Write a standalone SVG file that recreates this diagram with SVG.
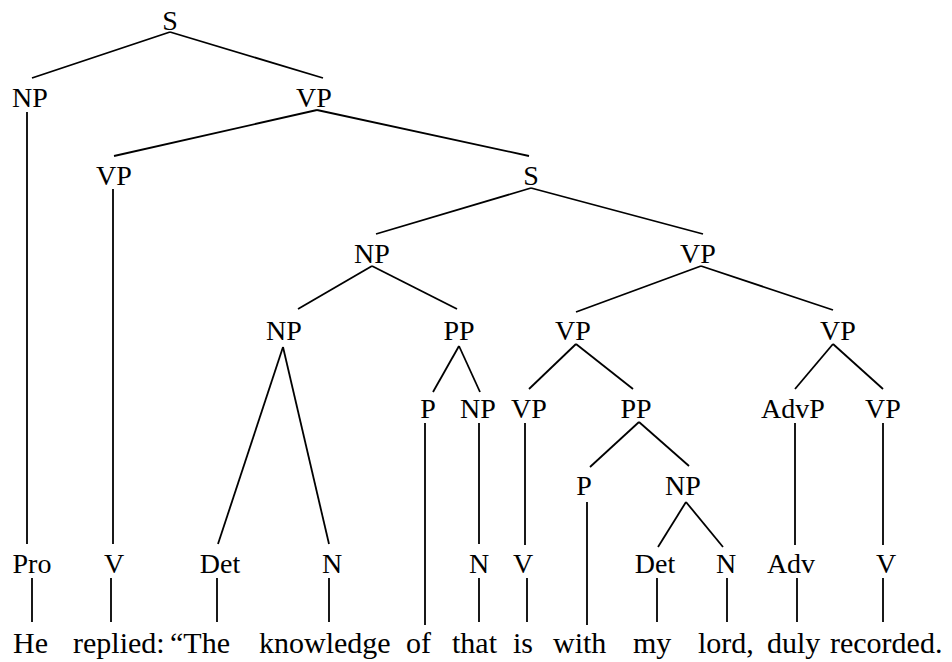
<svg xmlns="http://www.w3.org/2000/svg" width="952" height="662" viewBox="0 0 952 662">
<style>
.l{font-size:28px;fill:#000;text-anchor:middle}
.w{font-size:30px;fill:#000}
#edges line{stroke:#000;stroke-width:1.8;stroke-linecap:butt}
</style>
<rect width="952" height="662" fill="#fff"/>
<g id="edges">
<line x1="170" y1="32" x2="32" y2="78"/>
<line x1="170" y1="32" x2="323" y2="78"/>
<line x1="317" y1="110" x2="114" y2="156"/>
<line x1="317" y1="110" x2="529" y2="156"/>
<line x1="27" y1="112" x2="27" y2="544"/>
<line x1="113" y1="189" x2="113" y2="544"/>
<line x1="531" y1="188" x2="376" y2="234"/>
<line x1="531" y1="188" x2="703" y2="234"/>
<line x1="372" y1="266" x2="298" y2="309"/>
<line x1="372" y1="266" x2="457" y2="309"/>
<line x1="701" y1="266" x2="576" y2="312"/>
<line x1="701" y1="266" x2="833" y2="310"/>
<line x1="283" y1="347" x2="218" y2="544"/>
<line x1="283" y1="347" x2="329" y2="544"/>
<line x1="459" y1="346" x2="433" y2="392"/>
<line x1="459" y1="346" x2="480" y2="392"/>
<line x1="576" y1="344" x2="529" y2="389"/>
<line x1="576" y1="344" x2="633" y2="389"/>
<line x1="833" y1="344" x2="795" y2="389"/>
<line x1="833" y1="344" x2="883" y2="389"/>
<line x1="425" y1="423" x2="425" y2="625"/>
<line x1="479" y1="423" x2="479" y2="544"/>
<line x1="525" y1="423" x2="525" y2="545"/>
<line x1="639" y1="422" x2="590" y2="467"/>
<line x1="639" y1="422" x2="689" y2="466"/>
<line x1="587" y1="502" x2="587" y2="625"/>
<line x1="686" y1="502" x2="658" y2="547"/>
<line x1="686" y1="502" x2="723" y2="547"/>
<line x1="795" y1="423" x2="795" y2="545"/>
<line x1="883" y1="423" x2="883" y2="545"/>
<line x1="32" y1="578" x2="32" y2="622"/>
<line x1="111" y1="578" x2="111" y2="622"/>
<line x1="217" y1="578" x2="217" y2="622"/>
<line x1="329" y1="578" x2="329" y2="622"/>
<line x1="479" y1="578" x2="479" y2="622"/>
<line x1="527" y1="578" x2="527" y2="622"/>
<line x1="657" y1="578" x2="657" y2="622"/>
<line x1="727" y1="578" x2="727" y2="622"/>
<line x1="797" y1="578" x2="797" y2="622"/>
<line x1="883" y1="578" x2="883" y2="622"/>
</g>
<g id="nodes" font-family="Liberation Serif, DejaVu Serif, Times New Roman, serif">
<g id="n-S1"><text class="l" x="170" y="30">S</text></g>
<g id="n-NP1"><text class="l" x="30" y="107">NP</text></g>
<g id="n-VP1"><text class="l" x="314" y="107">VP</text></g>
<g id="n-VP2"><text class="l" x="114" y="185">VP</text></g>
<g id="n-S2"><text class="l" x="531" y="185">S</text></g>
<g id="n-NP2"><text class="l" x="372" y="263">NP</text></g>
<g id="n-VP3"><text class="l" x="698" y="263">VP</text></g>
<g id="n-NP3"><text class="l" x="284" y="340">NP</text></g>
<g id="n-PP1"><text class="l" x="459" y="340">PP</text></g>
<g id="n-VP4"><text class="l" x="573" y="340">VP</text></g>
<g id="n-VP5"><text class="l" x="838" y="340">VP</text></g>
<g id="n-P1"><text class="l" x="428" y="418">P</text></g>
<g id="n-NP4"><text class="l" x="478" y="418">NP</text></g>
<g id="n-VP6"><text class="l" x="529" y="418">VP</text></g>
<g id="n-PP2"><text class="l" x="636" y="418">PP</text></g>
<g id="n-AdvP"><text class="l" x="793" y="418">AdvP</text></g>
<g id="n-VP7"><text class="l" x="883" y="418">VP</text></g>
<g id="n-P2"><text class="l" x="584" y="495">P</text></g>
<g id="n-NP5"><text class="l" x="683" y="495">NP</text></g>
<g id="n-Pro"><text class="l" x="32" y="573">Pro</text></g>
<g id="n-V1"><text class="l" x="114" y="573">V</text></g>
<g id="n-Det1"><text class="l" x="220" y="573">Det</text></g>
<g id="n-N1"><text class="l" x="332" y="573">N</text></g>
<g id="n-N2"><text class="l" x="479" y="573">N</text></g>
<g id="n-V2"><text class="l" x="523" y="573">V</text></g>
<g id="n-Det2"><text class="l" x="655" y="573">Det</text></g>
<g id="n-N3"><text class="l" x="726" y="573">N</text></g>
<g id="n-Adv"><text class="l" x="791" y="573">Adv</text></g>
<g id="n-V3"><text class="l" x="886" y="573">V</text></g>
<g id="words">
<text class="w" x="13" y="653">He</text>
<text class="w" x="73" y="653">replied:</text>
<text class="w" x="170" y="653">“The</text>
<text class="w" x="259" y="653">knowledge</text>
<text class="w" x="406" y="653">of</text>
<text class="w" x="452" y="653">that</text>
<text class="w" x="513" y="653">is</text>
<text class="w" x="553" y="653">with</text>
<text class="w" x="633" y="653">my</text>
<text class="w" x="698" y="653">lord,</text>
<text class="w" x="767" y="653">duly</text>
<text class="w" x="830" y="653">recorded.</text>
</g>
</g>
</svg>
